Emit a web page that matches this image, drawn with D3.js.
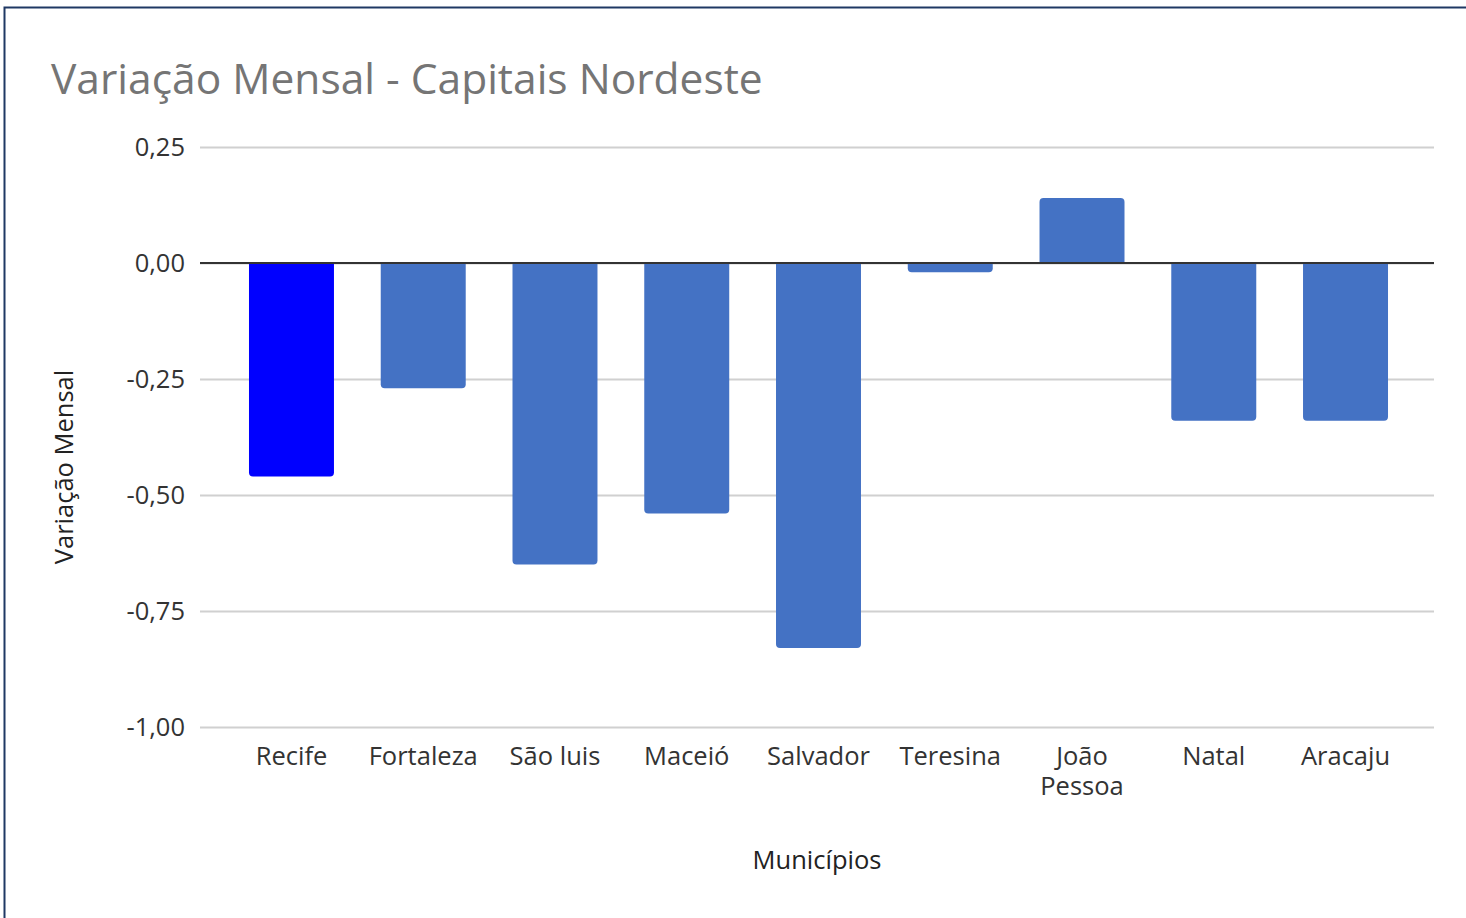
<!DOCTYPE html>
<html>
<head>
<meta charset="utf-8">
<script src="https://cdn.jsdelivr.net/npm/d3@7"></script>
<style>
    body { margin: 0; background: #fff; }
    svg { display: block; font-family: "Open Sans", sans-serif; }
</style>
</head>
<body>
<div id="js-svg-container"></div>
<script>
let cities = ['Recife', 'Fortaleza', 'São luis', 'Maceió', 'Salvador', 'Teresina', 'João Pessoa', 'Natal', 'Aracaju'];
let variation = [-0.46, -0.27, -0.65, -0.54, -0.83, -0.02, 0.14, -0.34, -0.34];
let yTicks = [0.25, 0, -0.25, -0.5, -0.75, -1];
let highlight = 'Recife';

let width = 1466;
let height = 918;
let labelSize = '25.5px';

let colors = {
    normal: '#4472C4',
    highlight: '#0000FF'
};

let data = cities.map((c, i) => { return { city: c, value: variation[i] }; });

let ptLocale = d3.formatLocale({ decimal: ',', thousands: '.', grouping: [3], currency: ['R$', ''], minus: '-' });
let fmt = ptLocale.format('.2f');

let svg = d3.select('#js-svg-container')
    .append('svg')
    .attr('width', width)
    .attr('height', height);

// frame (only top and left edges are visible)
svg.append('rect')
    .attr('x', 4.5)
    .attr('y', 7.5)
    .attr('width', width + 20)
    .attr('height', height + 20)
    .attr('fill', 'none')
    .attr('stroke', '#1f3864')
    .attr('stroke-width', 2);

svg.append('text')
    .attr('x', 51)
    .attr('y', 94)
    .attr('fill', '#757575')
    .style('font-size', '42.5px')
    .text('Variação Mensal - Capitais Nordeste');

let x = d3.scaleBand()
    .domain(cities)
    .range([225.6, 1411.4])
    .paddingInner(0.355)
    .paddingOuter(0.1775);

let y = d3.scaleLinear()
    .domain([-1, 0.25])
    .range([727, 147]);

let gridLeft = 200, gridRight = 1434;

// y axis with gridlines
let axisY = svg.append('g')
    .attr('transform', 'translate(' + gridRight + ',0)')
    .call(d3.axisLeft(y)
        .tickValues(yTicks)
        .tickSize(gridRight - gridLeft)
        .tickPadding(15)
        .tickFormat(fmt));

axisY.select('.domain').remove();
axisY.selectAll('.tick line')
    .attr('stroke', '#d0d0d0')
    .attr('stroke-width', 2);
axisY.selectAll('.tick text')
    .attr('fill', '#333')
    .style('font-size', labelSize)
    .style('font-family', '"Open Sans", sans-serif');

// bars with rounded outer corners
function barPath(d) {
    let x0 = x(d.city), w = x.bandwidth();
    let y0 = y(0), y1 = y(d.value);
    let h = Math.abs(y1 - y0);
    let r = Math.min(4, h / 2);
    let s = d.value >= 0 ? 1 : -1;
    return 'M' + x0 + ',' + y0 +
        'V' + (y1 + s * r) +
        'Q' + x0 + ',' + y1 + ' ' + (x0 + r) + ',' + y1 +
        'H' + (x0 + w - r) +
        'Q' + (x0 + w) + ',' + y1 + ' ' + (x0 + w) + ',' + (y1 + s * r) +
        'V' + y0 + 'Z';
}

svg.append('g')
    .selectAll('path')
    .data(data)
    .enter()
    .append('path')
    .attr('d', barPath)
    .attr('fill', d => { return d.city === highlight ? colors.highlight : colors.normal; });

// zero line
svg.append('line')
    .attr('x1', gridLeft)
    .attr('x2', gridRight)
    .attr('y1', y(0))
    .attr('y2', y(0))
    .attr('stroke', '#333')
    .attr('stroke-width', 2);

// x axis labels
let axisX = svg.append('g')
    .attr('transform', 'translate(0,' + y(-1) + ')')
    .call(d3.axisBottom(x).tickSize(0).tickPadding(20));

axisX.select('.domain').remove();
axisX.selectAll('.tick text')
    .attr('fill', '#333')
    .style('font-size', labelSize)
    .style('font-family', '"Open Sans", sans-serif')
    .each(function(d) {
        let words = d.split(' ');
        let el = d3.select(this);
        if (d === 'João Pessoa') {
            el.text(null);
            words.forEach((wd, i) => {
                el.append('tspan')
                    .attr('x', 0)
                    .attr('dy', i === 0 ? '0.71em' : '1.18em')
                    .text(wd);
            });
            el.attr('dy', null);
        }
    });

svg.append('text')
    .attr('x', 817)
    .attr('y', 869)
    .attr('text-anchor', 'middle')
    .attr('fill', '#222')
    .style('font-size', labelSize)
    .text('Municípios');

svg.append('text')
    .attr('transform', 'translate(73,467) rotate(-90)')
    .attr('text-anchor', 'middle')
    .attr('fill', '#222')
    .style('font-size', labelSize)
    .text('Variação Mensal');
</script>
</body>
</html>
